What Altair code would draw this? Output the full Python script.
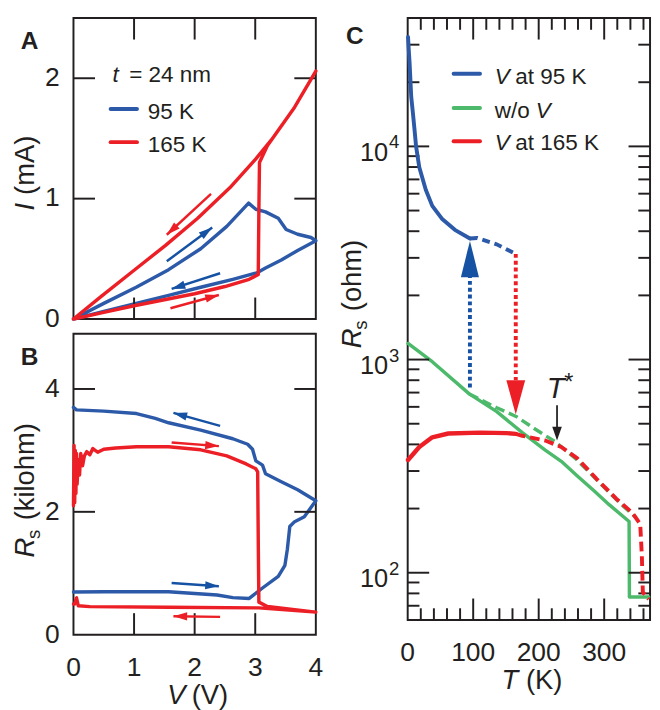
import math
import altair as alt
import pandas as pd

FONT = "Liberation Sans"
BLACK = "#231f20"
BLUE = "#2c5aa8"
BLUE_ARROW = "#1552a3"
RED = "#ed1f26"
GREEN = "#4cb96b"

# ---------------- Panel A : I-V loops (t = 24 nm) ----------------
a95_V = [0, 0.50, 1.035, 1.57, 2.10, 2.53, 2.89, 3.01, 3.17, 3.38, 3.51, 3.70, 3.92, 4.0,
         3.70, 3.43, 3.17, 3.03, 2.63, 2.10, 1.57, 1.035, 0.50, 0]
a95_I = [0, 0.13, 0.264, 0.41, 0.584, 0.77, 0.963, 0.912, 0.89, 0.837, 0.744, 0.704, 0.677, 0.65,
         0.57, 0.49, 0.424, 0.384, 0.33, 0.264, 0.197, 0.13, 0.064, 0]
a165_V = [0, 0.5, 1, 1.5, 2, 2.5, 2.9, 3.05, 3.06, 3.07, 3.2, 3.27, 3.65, 4.0,
          3.65, 3.27, 3.01, 2.58, 2.05, 1.515, 0.98, 0.448, 0]
a165_I = [0, 0.055, 0.11, 0.16, 0.21, 0.27, 0.33, 0.37, 0.9, 1.30, 1.44, 1.49, 1.76, 2.06,
          1.76, 1.49, 1.33, 1.09, 0.837, 0.61, 0.397, 0.184, 0]

# ---------------- Panel B : Rs-V loops ----------------
b95_V = [0, 0.5, 1.57, 2.37, 2.63, 2.90, 3.12, 3.38, 3.49, 3.53, 3.57, 3.65, 3.81, 4.0,
         3.70, 3.43, 3.17, 3.12, 3.01, 2.955, 2.875, 2.63, 2.10, 1.57, 1.35, 1.04, 0.5, 0.05, 0]
b95_R = [0.695, 0.70, 0.70, 0.646, 0.603, 0.59, 0.76, 0.95, 1.13, 1.39, 1.76, 1.84, 1.92, 2.18,
         2.36, 2.49, 2.62, 2.76, 2.83, 3.02, 3.10, 3.19, 3.33, 3.45, 3.52, 3.60, 3.64, 3.66, 3.70]
b165_V = [0, 0.01, 0.02, 0.03, 0.04, 0.05, 0.06, 0.08, 0.10, 0.12, 0.15, 0.18, 0.22, 0.27, 0.32,
          0.4, 0.5, 0.7, 1.04, 1.57, 2.10, 2.53, 2.85, 3.01, 3.04, 3.05, 3.06, 3.2, 4.0,
          3.06, 1.57, 0.27, 0.08, 0.05, 0.02, 0]
b165_R = [2.1, 3.08, 2.15, 3.0, 2.3, 2.95, 2.45, 2.85, 2.6, 2.95, 2.75, 2.91, 2.98, 2.93, 3.03,
          2.97, 3.02, 3.04, 3.06, 3.06, 3.01, 2.91, 2.78, 2.70, 2.65, 1.5, 0.53, 0.46, 0.367,
          0.436, 0.446, 0.457, 0.47, 0.6, 0.5, 0.5]

# ---------------- Panel C : Rs-T ----------------
c95_T = [0.5, 1.5, 3, 5.4, 7.9, 10.3, 12.8, 17.7, 27.6, 37.5, 52.2, 72, 95]
c95_R = [32600, 28800, 24300, 17100, 14400, 12100, 10000, 7980, 6260, 5260, 4580, 4060, 3700]
c95d_T = [95, 106, 136, 165]
c95d_R = [3700, 3720, 3470, 3130]
cwo_T = [0.5, 37.5, 94, 136, 175, 210, 234.5, 259, 284, 308, 338, 338.5, 368]
cwo_R = [1190, 977, 690, 570, 454, 376, 333, 284, 243, 208, 174, 77, 77]
cwod_T = [94, 136, 165.5, 195, 226, 256, 290, 324, 349]
cwod_R = [690, 594, 541, 471, 410, 344, 270, 212, 181]
c165_T = [0.5, 17.7, 37.5, 62, 111, 151, 165]
c165_R = [338, 389, 432, 450, 454, 452, 448]
c165d_T = [165, 175, 210, 234.5, 259, 288.7, 318, 343, 355, 357.5, 359, 368]
c165d_R = [448, 439, 417, 389, 344, 275, 223, 191, 169, 120, 81, 75]

# ---------------- tick values ----------------
AB_xlabels = [0, 1, 2, 3, 4]
AB_xticks = [1, 2, 3]
A_ylabels = [0, 1, 2]
A_yticks = [1, 2]
B_ylabels = [0, 2, 4]
B_yticks = [2, 4]
C_xlabels = [0, 100, 200, 300]
C_xmajor = [100, 200, 300]
C_xminor = [20, 40, 60, 80, 120, 140, 160, 180, 220, 240, 260, 280, 320, 340, 360]
C_ymajor = [100, 1000, 10000]
C_exp = ["2", "3", "4"]
C_yminor = [70, 80, 90, 200, 300, 400, 500, 600, 700, 800, 900,
            2000, 3000, 4000, 5000, 6000, 7000, 8000, 9000, 20000, 30000]

# ---------------- annotation arrows (start x, start y, end x, end y) ----------------
A_arrows = [((2.27, 1.04, 1.54, 0.70), RED), ((1.60, 0.09, 2.40, 0.20), RED),
            ((1.54, 0.48, 2.29, 0.76), BLUE_ARROW), ((2.42, 0.38, 1.62, 0.25), BLUE_ARROW)]
B_arrows = [((2.42, 3.40, 1.65, 3.61), BLUE_ARROW), ((1.62, 3.13, 2.40, 3.07), RED),
            ((1.62, 0.84, 2.40, 0.79), BLUE_ARROW), ((2.42, 0.29, 1.65, 0.30), RED)]

W = 248
HA = 308
HB = 308
HC = 616
TK = 22
TKm = 12
LBL = 27

xA = alt.Scale(domain=[0, 4], nice=False, zero=False)
yA = alt.Scale(domain=[0, 2.5], nice=False, zero=False)
yB = alt.Scale(domain=[0, 4.9], nice=False, zero=False)
xC = alt.Scale(domain=[0, 370], nice=False, zero=False)
yC = alt.Scale(type="log", domain=[60, 40000], nice=False)

ONE = pd.DataFrame({"k": [0]})


def curve(xs, ys, sx, sy, color, width=3.5, dash=None):
    df = pd.DataFrame({"x": xs, "y": ys, "o": list(range(len(xs)))})
    mk = dict(color=color, strokeWidth=width, strokeJoin="round", strokeCap="round")
    if dash is not None:
        mk["strokeDash"] = dash
        mk["strokeCap"] = "butt"
    return alt.Chart(df).mark_line(**mk).encode(
        x=alt.X("x:Q", scale=sx, axis=None),
        y=alt.Y("y:Q", scale=sy, axis=None),
        order=alt.Order("o:Q"),
    )


def xticks(vals, sx, length, h, top=True, bottom=True):
    df = pd.DataFrame({"v": vals})
    base = alt.Chart(df).mark_rule(color=BLACK, strokeWidth=2)
    out = []
    if top:
        out.append(base.encode(x=alt.X("v:Q", scale=sx, axis=None), y=alt.value(0), y2=alt.value(length)))
    if bottom:
        out.append(base.encode(x=alt.X("v:Q", scale=sx, axis=None), y=alt.value(h - length), y2=alt.value(h)))
    return out


def yticks(vals, sy, length, w):
    df = pd.DataFrame({"v": vals})
    base = alt.Chart(df).mark_rule(color=BLACK, strokeWidth=2)
    return [base.encode(y=alt.Y("v:Q", scale=sy, axis=None), x=alt.value(0), x2=alt.value(length)),
            base.encode(y=alt.Y("v:Q", scale=sy, axis=None), x=alt.value(w - length), x2=alt.value(w))]


def xlabels(vals, sx, ypix):
    df = pd.DataFrame({"v": vals, "s": [str(v) for v in vals]})
    return alt.Chart(df).mark_text(fontSize=LBL, font=FONT, color=BLACK, align="center",
                                   baseline="alphabetic").encode(
        x=alt.X("v:Q", scale=sx, axis=None), y=alt.value(ypix), text="s:N")


def ylabels(vals, sy, xpix):
    df = pd.DataFrame({"v": vals, "s": [str(v) for v in vals]})
    return alt.Chart(df).mark_text(fontSize=LBL, font=FONT, color=BLACK, align="right",
                                   baseline="middle").encode(
        y=alt.Y("v:Q", scale=sy, axis=None), x=alt.value(xpix), text="s:N")


def txt(s, x, y, size, italic=False, bold=False, angle=0, align="left", baseline="alphabetic", color=BLACK):
    kw = dict(text=s, fontSize=size, font=FONT, color=color, align=align, baseline=baseline)
    if italic:
        kw["fontStyle"] = "italic"
    if bold:
        kw["fontWeight"] = "bold"
    if angle:
        kw["angle"] = angle
    return alt.Chart(ONE).mark_text(**kw).encode(x=alt.value(x), y=alt.value(y))


def hline(x1, x2, y, color, width=4):
    return alt.Chart(ONE).mark_rule(color=color, strokeWidth=width, strokeCap="round").encode(
        x=alt.value(x1), x2=alt.value(x2), y=alt.value(y))


HEAD_SMALL = "M0,0 L0.6,2 L-0.6,2 Z"


def arrow(seg, color, sx, sy, pxx, pxy):
    x1, y1, x2, y2 = seg
    dx = (x2 - x1) * pxx
    dy = -(y2 - y1) * pxy
    ang = math.degrees(math.atan2(dx, -dy)) % 360
    df = pd.DataFrame({"x": [x1], "y": [y1], "x2": [x2], "y2": [y2]})
    rule = alt.Chart(df).mark_rule(color=color, strokeWidth=2.5).encode(
        x=alt.X("x:Q", scale=sx, axis=None), y=alt.Y("y:Q", scale=sy, axis=None),
        x2="x2:Q", y2="y2:Q")
    head = alt.Chart(df).mark_point(shape=HEAD_SMALL, filled=True, color=color, opacity=1,
                                    size=196, angle=ang, strokeWidth=0).encode(
        x=alt.X("x2:Q", scale=sx, axis=None), y=alt.Y("y2:Q", scale=sy, axis=None))
    return [rule, head]


# ================= Panel A =================
layA = [curve(a95_V, a95_I, xA, yA, BLUE)]
layA += xticks(AB_xticks, xA, TK, HA) + yticks(A_yticks, yA, TK, W)
layA.append(curve(a165_V, a165_I, xA, yA, RED))
for seg, col in A_arrows:
    layA += arrow(seg, col, xA, yA, W / 4, HA / 2.5)
layA += [
    ylabels(A_ylabels, yA, -14),
    txt("A", -45, 32, 25, bold=True, align="center"),
    txt("I", -40, 197, 28, italic=True, angle=270),
    txt("(mA)", -40, 181, 28, angle=270),
    txt("t", 40, 65, 23, italic=True),
    txt("= 24 nm", 57, 65, 23),
    hline(38, 65, 93, BLUE),
    txt("95 K", 76, 103, 23),
    hline(38, 65, 127, RED),
    txt("165 K", 76, 137, 23),
]
chartA = alt.layer(*layA).properties(width=W, height=HA)

# ================= Panel B =================
layB = [curve(b95_V, b95_R, xA, yB, BLUE)]
layB += xticks(AB_xticks, xA, TK, HB, top=False) + yticks(B_yticks, yB, TK, W)
layB.append(curve(b165_V, b165_R, xA, yB, RED))
for seg, col in B_arrows:
    layB += arrow(seg, col, xA, yB, W / 4, HB / 4.9)
layB += [
    ylabels(B_ylabels, yB, -14),
    xlabels(AB_xlabels, xA, HB + 42),
    txt("B", -45, 32, 25, bold=True, align="center"),
    txt("R", -40, 229, 28, italic=True, angle=270),
    txt("s", -34, 210, 19, angle=270),
    txt("(kilohm)", -40, 191, 28, angle=270),
    txt("V", 96, HB + 71, 28, italic=True),
    txt("(V)", 121, HB + 71, 28),
]
chartB = alt.layer(*layB).properties(width=W, height=HB)

# ================= Panel C =================
layC = [curve(cwo_T, cwo_R, xC, yC, GREEN)]
layC += xticks(C_xmajor, xC, TK, HC) + xticks(C_xminor, xC, TKm, HC)
layC += yticks(C_ymajor, yC, TK, W) + yticks(C_yminor, yC, TKm, W)
layC.append(curve(cwod_T, cwod_R, xC, yC, GREEN, dash=[10, 5]))
layC.append(curve(c165_T, c165_R, xC, yC, RED, width=4.5))
layC.append(curve(c165d_T, c165d_R, xC, yC, RED, width=4, dash=[10, 5]))
layC.append(curve(c95_T, c95_R, xC, yC, BLUE, width=4))
layC.append(curve(c95d_T, c95d_R, xC, yC, BLUE, width=4, dash=[8, 5]))

# vertical dotted arrows and T* marker
vseg = pd.DataFrame({"t": [95, 165, 228], "r1": [740, 3130, 611], "r2": [2440, 800, 430],
                     "c": ["b", "r", "k"]})
layC.append(alt.Chart(vseg[vseg.c == "b"]).mark_rule(color=BLUE_ARROW, strokeWidth=4, strokeDash=[4, 3]).encode(
    x=alt.X("t:Q", scale=xC, axis=None), y=alt.Y("r1:Q", scale=yC, axis=None), y2="r2:Q"))
layC.append(alt.Chart(vseg[vseg.c == "r"]).mark_rule(color=RED, strokeWidth=4, strokeDash=[4, 3]).encode(
    x=alt.X("t:Q", scale=xC, axis=None), y=alt.Y("r1:Q", scale=yC, axis=None), y2="r2:Q"))
layC.append(alt.Chart(vseg[vseg.c == "k"]).mark_rule(color=BLACK, strokeWidth=1.8).encode(
    x=alt.X("t:Q", scale=xC, axis=None), y=alt.Y("r1:Q", scale=yC, axis=None), y2="r2:Q"))
heads = pd.DataFrame({"t": [95, 165, 228], "r": [3600, 553, 417]})
layC.append(alt.Chart(heads.iloc[[0]]).mark_point(shape="M0,0 L0.5,2 L-0.5,2 Z", filled=True, opacity=1,
                                                  color=BLUE_ARROW, size=1369, strokeWidth=0).encode(
    x=alt.X("t:Q", scale=xC, axis=None), y=alt.Y("r:Q", scale=yC, axis=None)))
layC.append(alt.Chart(heads.iloc[[1]]).mark_point(shape="M0,0 L0.55,-2 L-0.55,-2 Z", filled=True, opacity=1,
                                                  color=RED, size=1225, strokeWidth=0).encode(
    x=alt.X("t:Q", scale=xC, axis=None), y=alt.Y("r:Q", scale=yC, axis=None)))
layC.append(alt.Chart(heads.iloc[[2]]).mark_point(shape="M0,0 L0.7,-2 L-0.7,-2 Z", filled=True, opacity=1,
                                                  color=BLACK, size=196, strokeWidth=0).encode(
    x=alt.X("t:Q", scale=xC, axis=None), y=alt.Y("r:Q", scale=yC, axis=None)))

tstar = pd.DataFrame({"t": [226], "r": [724], "t2": [246], "r2": [771]})
layC.append(alt.Chart(tstar).mark_text(text="T", fontSize=30, font=FONT, fontStyle="italic", color=BLACK,
                                       align="center", baseline="middle").encode(
    x=alt.X("t:Q", scale=xC, axis=None), y=alt.Y("r:Q", scale=yC, axis=None)))
layC.append(alt.Chart(tstar).mark_text(text="*", fontSize=24, font=FONT, color=BLACK,
                                       align="center", baseline="middle").encode(
    x=alt.X("t2:Q", scale=xC, axis=None), y=alt.Y("r2:Q", scale=yC, axis=None)))

# log-axis labels 10^k
dfexp = pd.DataFrame({"v": C_ymajor, "e": C_exp})
layC.append(alt.Chart(dfexp).mark_text(text="10", fontSize=26, font=FONT, color=BLACK, align="right",
                                       baseline="alphabetic", dy=15).encode(
    x=alt.value(-20), y=alt.Y("v:Q", scale=yC, axis=None)))
layC.append(alt.Chart(dfexp).mark_text(fontSize=19, font=FONT, color=BLACK, align="left",
                                       baseline="alphabetic", dy=2).encode(
    x=alt.value(-19), y=alt.Y("v:Q", scale=yC, axis=None), text="e:N"))

layC += [
    xlabels(C_xlabels, xC, HC + 42),
    txt("C", -54, 27, 25, bold=True, align="center"),
    txt("R", -48, 338, 28, italic=True, angle=270),
    txt("s", -42, 319, 19, angle=270),
    txt("(ohm)", -48, 300, 28, angle=270),
    txt("T", 96, HC + 71, 28, italic=True),
    txt("(K)", 121, HC + 71, 28),
    hline(47, 74, 57, BLUE),
    txt("V", 89, 68, 23, italic=True),
    txt("at 95 K", 110, 68, 23),
    hline(47, 74, 92, GREEN),
    txt("w/o", 89, 102, 23),
    txt("V", 131, 102, 23, italic=True),
    hline(47, 74, 126, RED),
    txt("V", 89, 135, 23, italic=True),
    txt("at 165 K", 110, 135, 23),
]
chartC = alt.layer(*layC).properties(width=W, height=HC)

chart = alt.hconcat(alt.vconcat(chartA, chartB, spacing=0), chartC, spacing=14).properties(
    padding={"left": 4, "top": 0, "right": 0, "bottom": 0}, background="white"
).configure_view(stroke=BLACK, strokeWidth=2)

chart.save("out.html", embed_options={"renderer": "svg", "actions": False})
